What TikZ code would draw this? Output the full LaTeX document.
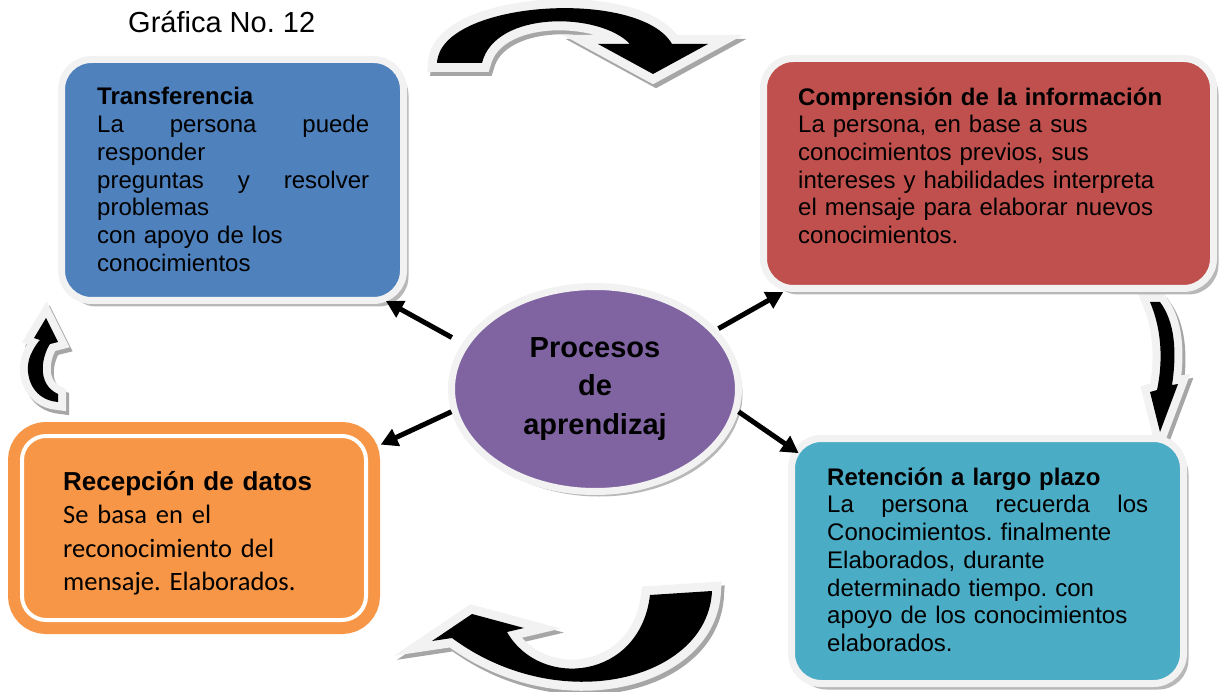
\documentclass[tikz,border=0pt]{standalone}
\usepackage{fontspec}
\setmainfont{Liberation Sans}
\newfontfamily\calibri{Carlito}
\usetikzlibrary{arrows.meta,shapes.geometric,shadows}

\definecolor{boxblue}{HTML}{4F81BD}
\definecolor{boxred}{HTML}{C0504D}
\definecolor{boxteal}{HTML}{4BACC6}
\definecolor{boxorange}{HTML}{F79646}
\definecolor{boxpurple}{HTML}{8064A2}
\definecolor{rim}{HTML}{F2F2F2}
\definecolor{shade}{HTML}{A6A6A6}

\tikzset{
  card/.style={rectangle, rounded corners=30, draw=rim, line width=7, inner sep=0,
    drop shadow={shadow xshift=5pt, shadow yshift=-6pt, fill=shade, opacity=.8}},
  recbox/.style={rectangle, rounded corners=24, fill=boxorange, draw=white, line width=4, inner sep=0,
    preaction={draw=boxorange, line width=28}},
  hub/.style={ellipse, fill=boxpurple, draw=rim, line width=7, inner sep=0,
    minimum width=287, minimum height=205, align=center,
    font=\bfseries\fontsize{29}{38.5}\selectfont,
    drop shadow={shadow xshift=4pt, shadow yshift=-5pt, fill=shade, opacity=.8}},
  body/.style={anchor=north west, inner sep=0, align=left,
    font=\fontsize{24}{27.7}\selectfont},
  link/.style={line width=5, -{Triangle[length=17pt,width=18pt]}},
  bent/.style={fill=black, line join=round,
    preaction={draw=shade, fill=shade, line width=#1, transform canvas={xshift=3pt, yshift=-4pt}},
    preaction={draw=rim, line width=#1}},
  bent/.default=18
}

\begin{document}
\frenchspacing
\begin{tikzpicture}[x=1pt, y=-1pt]
  \useasboundingbox (0,0) rectangle (1225,692);

  \node[anchor=base west, inner sep=0, font=\fontsize{29}{32}\selectfont] (title) at (128,33) {Gráfica No. 12};

  % curved arrows of the cycle
  \path[bent] (437,63) .. controls (440,0) and (640,-12) .. (672,44) -- (708,44) -- (653,74)
    -- (598,44) -- (630,44) .. controls (600,12) and (495,10) .. (482,63) -- cycle;
  \path[bent] (650,595) -- (712,591) .. controls (708,680) and (560,718) .. (452,638) -- (432,641)
    -- (472,614) -- (524,628) -- (507,632) .. controls (540,690) and (640,680) .. (650,595) -- cycle;
  \path[bent=16] (58,402) .. controls (30,400) and (22,370) .. (32,352) .. controls (35,346) and (38,342) .. (40,340)
    -- (34,338) -- (46,318) -- (58,342) -- (50,344) .. controls (42,356) and (36,384) .. (58,394) -- cycle;
  \path[bent=16] (1150,302) -- (1160,302) .. controls (1175,322) and (1177,352) .. (1172,385) -- (1178,384)
    -- (1160,432) -- (1150,392) -- (1157,390) .. controls (1163,362) and (1162,330) .. (1150,302) -- cycle;

  % the four stages
  \node[card, fill=boxblue, minimum width=342, minimum height=241] (trans) at (232.5,180) {};
  \node[card, fill=boxred, minimum width=450, minimum height=230] (comp) at (988.5,173.5) {};
  \node[card, fill=boxteal, minimum width=392, minimum height=245] (ret) at (987.5,561) {};
  \node[recbox, minimum width=344, minimum height=184] (rec) at (194,528) {};

  \node[hub] (proc) at (595,389) {Procesos\\de\\aprendizaj};

  \node[body, text width=272] (transtxt) at (97,87.4) {\textbf{Transferencia}\\
    La\hfill persona\hfill puede\\ responder\\ preguntas\hfill y\hfill resolver\\
    problemas\\ con apoyo de los\\ conocimientos};
  \node[body, text width=400] (comptxt) at (798,87.4) {\textbf{Comprensión de la información}\\
    La persona, en base a sus\\ conocimientos previos, sus\\ intereses y habilidades interpreta\\
    el mensaje para elaborar nuevos\\ conocimientos.};
  \node[body, text width=321] (rettxt) at (827,467.4) {\textbf{Retención a largo plazo}\\
    La\hfill persona\hfill recuerda\hfill los\\ Conocimientos. finalmente\\ Elaborados, durante\\
    determinado tiempo. con\\ apoyo de los conocimientos\\ elaborados.};
  \node[body, text width=310, font=\calibri\fontsize{26.5}{33.5}\selectfont] (rectxt) at (63,471)
    {{\rmfamily\bfseries\fontsize{26}{33.5}\selectfont Recepción de datos}\\
    Se basa en el\\ reconocimiento del\\ mensaje. Elaborados.};

  \draw[link, shorten <=12pt, shorten >=-6pt] (proc.161) -- (trans.-38);
  \draw[link, shorten <=2pt] (proc.26) -- (comp.210);
  \draw[link, shorten >=14pt] (proc.189) -- (rec.24);
  \draw[link, shorten >=-13pt] (proc.-9) -- (ret.150);
\end{tikzpicture}
\end{document}
